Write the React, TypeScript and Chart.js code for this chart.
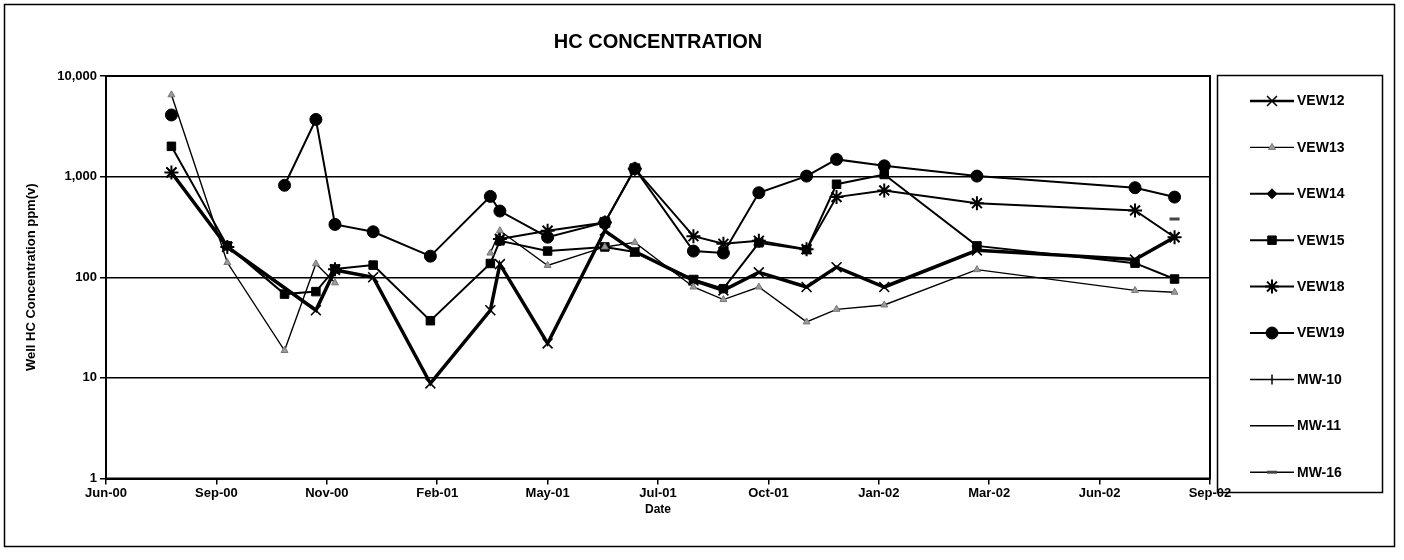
import React, { useEffect, useRef } from 'react';
import { Chart, registerables } from 'chart.js';
import { drawPoint } from 'chart.js/helpers';

Chart.register(...registerables);

// ---- data ----
const sampleDates = [
  '2000-08-02', '2000-09-12', '2000-10-24', '2000-11-16', '2000-11-30', '2000-12-28',
  '2001-02-08', '2001-03-24', '2001-03-31', '2001-05-05', '2001-06-16', '2001-07-08',
  '2001-08-20', '2001-09-11', '2001-10-07', '2001-11-11', '2001-12-03', '2002-01-07',
  '2002-03-16', '2002-07-10', '2002-08-08',
];

const vew12 = [1100, 200, null, 47, 118, 100, 8.8, 47, 135, 22, 290, 180, 93, 74, 112, 80, 126, 80, 185, 150, 250];
const vew13 = [6500, 140, 18.7, 136, 88, null, null, 174, 290, 131, 200, 222, 80, 60, 80, 36, 48, 53, 119, 74, 71];
const vew14: (number | null)[] = sampleDates.map(() => null);
const vew15 = [2000, 205, 68, 72, 121, 132, 37, 137, 230, 182, 200, 178, 95, 77, 220, 188, 840, 1050, 205, 138, 96];
const vew18 = [1100, 200, null, null, 120, null, null, null, 240, 290, 350, 1200, 256, 215, 230, 190, 626, 729, 545, 461, 250];
const vew19 = [4100, null, 820, 3700, 335, 283, 162, 636, 455, 250, 350, 1200, 182, 174, 692, 1012, 1483, 1280, 1012, 776, 626];
const mw10: (number | null)[] = sampleDates.map(() => null);
const mw11: (number | null)[] = sampleDates.map(() => null);
const mw16 = [null, null, null, null, null, null, null, null, null, null, null, null, null, null, null, null, null, null, null, null, 380];

const seriesNames = ['VEW12', 'VEW13', 'VEW14', 'VEW15', 'VEW18', 'VEW19', 'MW-10', 'MW-11', 'MW-16'];
const seriesValues = [vew12, vew13, vew14, vew15, vew18, vew19, mw10, mw11, mw16];

const xTickLabels = ['Jun-00', 'Sep-00', 'Nov-00', 'Feb-01', 'May-01', 'Jul-01', 'Oct-01', 'Jan-02', 'Mar-02', 'Jun-02', 'Sep-02'];
const yTickValues = [1, 10, 100, 1000, 10000];

const DAY = 86400000;
const X_START = Date.UTC(2000, 5, 15);
const X_STEP_DAYS = 81;

// ---- styles ----
const FONT = "'Liberation Sans', Arial, sans-serif";

type Style = {
  pointStyle: any;
  radius: number;
  lineWidth: number;
  fill: string;
  stroke: string;
  pointBorder: number;
  rotation?: number;
  spanGaps: boolean;
};

const styles: Style[] = [
  { pointStyle: 'crossRot', radius: 7, lineWidth: 3.5, fill: '#000', stroke: '#000', pointBorder: 1.6, spanGaps: true },
  { pointStyle: 'triangle', radius: 4, lineWidth: 1.4, fill: '#9a9a9a', stroke: '#777', pointBorder: 1, spanGaps: false },
  { pointStyle: 'rectRot', radius: 5, lineWidth: 2, fill: '#000', stroke: '#000', pointBorder: 1, spanGaps: true },
  { pointStyle: 'rect', radius: 6, lineWidth: 2, fill: '#000', stroke: '#000', pointBorder: 1, spanGaps: true },
  { pointStyle: 'star', radius: 7, lineWidth: 2, fill: '#000', stroke: '#000', pointBorder: 2, spanGaps: false },
  { pointStyle: 'circle', radius: 6, lineWidth: 2, fill: '#000', stroke: '#000', pointBorder: 1, spanGaps: false },
  { pointStyle: 'line', radius: 5, lineWidth: 1.5, fill: '#000', stroke: '#000', pointBorder: 1.5, rotation: 90, spanGaps: true },
  { pointStyle: false, radius: 0, lineWidth: 1.5, fill: '#000', stroke: '#000', pointBorder: 0, spanGaps: true },
  { pointStyle: 'line', radius: 5, lineWidth: 1.5, fill: '#444', stroke: '#444', pointBorder: 3, spanGaps: true },
];

function toMs(s: string) {
  const [y, m, d] = s.split('-').map(Number);
  return Date.UTC(y, m - 1, d);
}

const frameLegendPlugin = {
  id: 'frameLegend',
  beforeDraw(chart: any) {
    const ctx = chart.ctx;
    ctx.save();
    ctx.fillStyle = '#fff';
    ctx.fillRect(0, 0, chart.width, chart.height);
    ctx.restore();
  },
  afterDraw(chart: any) {
    const ctx = chart.ctx;
    const a = chart.chartArea;
    ctx.save();
    ctx.strokeStyle = '#000';
    // outer frame
    ctx.lineWidth = 1.5;
    ctx.strokeRect(4.5, 4.5, 1390, 542);
    // plot area frame
    ctx.lineWidth = 2;
    ctx.strokeRect(a.left, a.top, a.right - a.left, a.bottom - a.top);
    // legend box
    const lx = 1217.5, ly = 75.5, lw = 165, lh = 417;
    ctx.lineWidth = 1.5;
    ctx.strokeRect(lx, ly, lw, lh);
    ctx.font = `bold 14px ${FONT}`;
    ctx.textBaseline = 'middle';
    ctx.textAlign = 'left';
    seriesNames.forEach((name, i) => {
      const st = styles[i];
      const y = 101 + i * 46.4;
      ctx.strokeStyle = '#000';
      ctx.lineWidth = Math.min(st.lineWidth, 2.5);
      ctx.beginPath();
      ctx.moveTo(1250, y);
      ctx.lineTo(1294, y);
      ctx.stroke();
      if (st.pointStyle) {
        ctx.fillStyle = st.fill;
        ctx.strokeStyle = st.stroke;
        ctx.lineWidth = st.pointBorder;
        drawPoint(ctx, { pointStyle: st.pointStyle, radius: st.radius, borderWidth: st.pointBorder, rotation: st.rotation || 0 } as any, 1272, y);
      }
      ctx.fillStyle = '#000';
      ctx.fillText(name, 1297, y + 0.5);
    });
    ctx.restore();
  },
};

export default function App() {
  const ref = useRef<HTMLCanvasElement | null>(null);

  useEffect(() => {
    document.body.style.margin = '0';
    const canvas = ref.current!;
    const datasets = seriesNames.map((name, i) => {
      const st = styles[i];
      return {
        label: name,
        data: sampleDates.map((d, j) => ({ x: toMs(d), y: seriesValues[i][j] })),
        borderColor: '#000',
        backgroundColor: st.fill,
        borderWidth: st.lineWidth,
        pointStyle: st.pointStyle,
        pointRadius: st.radius,
        pointBorderColor: st.stroke,
        pointBackgroundColor: st.fill,
        pointBorderWidth: st.pointBorder,
        pointRotation: st.rotation || 0,
        spanGaps: st.spanGaps,
        tension: 0,
        fill: false,
      };
    });

    const chart = new Chart(canvas, {
      type: 'line',
      data: { datasets },
      plugins: [frameLegendPlugin],
      options: {
        animation: false,
        responsive: false,
        devicePixelRatio: 1,
        layout: { padding: { left: 0, right: 194, top: 0, bottom: 0 } },
        plugins: {
          legend: { display: false },
          tooltip: { enabled: false },
          title: {
            display: true,
            text: 'HC CONCENTRATION',
            fullSize: false,
            color: '#000',
            font: { family: FONT, size: 20, weight: 'bold', lineHeight: 1.2 },
            padding: { top: 30, bottom: 22 },
          },
        },
        scales: {
          x: {
            type: 'linear',
            min: X_START,
            max: X_START + 10 * X_STEP_DAYS * DAY,
            afterBuildTicks: (scale: any) => {
              scale.ticks = xTickLabels.map((_, k) => ({ value: X_START + k * X_STEP_DAYS * DAY }));
            },
            afterFit: (scale: any) => { scale.height = 81.5; },
            grid: { drawOnChartArea: false, drawTicks: true, tickLength: 6, color: '#000', lineWidth: 1.5 },
            border: { display: true, color: '#000', width: 2 },
            ticks: {
              autoSkip: false,
              maxRotation: 0,
              padding: 1,
              color: '#000',
              font: { family: FONT, size: 13, weight: 'bold' },
              callback: (_v: any, i: number) => xTickLabels[i] ?? '',
            },
            title: {
              display: true,
              text: 'Date',
              color: '#000',
              font: { family: FONT, size: 12, weight: 'bold' },
              padding: { top: 0, bottom: 43 },
            },
          },
          y: {
            type: 'logarithmic',
            min: 1,
            max: 10000,
            afterBuildTicks: (scale: any) => {
              scale.ticks = yTickValues.map((v) => ({ value: v }));
            },
            afterFit: (scale: any) => { scale.width = 106; },
            grid: { drawOnChartArea: true, drawTicks: true, tickLength: 6, color: '#000', lineWidth: 1.5 },
            border: { display: true, color: '#000', width: 2 },
            ticks: {
              padding: 3,
              color: '#000',
              font: { family: FONT, size: 13, weight: 'bold' },
              callback: (v: any) => Number(v).toLocaleString('en-US'),
            },
            title: {
              display: true,
              text: 'Well HC Concentration ppm(v)',
              color: '#000',
              font: { family: FONT, size: 13, weight: 'bold' },
              padding: { top: 24, bottom: 0 },
            },
          },
        },
      } as any,
    });
    return () => chart.destroy();
  }, []);

  return (
    <div style={{ width: 1404, height: 560 }}>
      <canvas ref={ref} width={1404} height={560} style={{ width: 1404, height: 560, display: 'block' }} />
    </div>
  );
}
